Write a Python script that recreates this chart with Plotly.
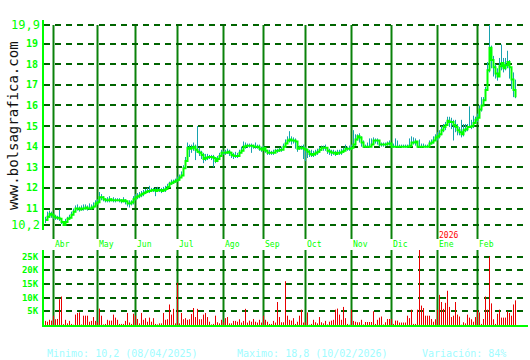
import plotly.graph_objects as go

# ---- data (trading-day index 0..235, late Mar 2025 .. Feb 2026) ----
close = [
    10.45, 10.6, 10.75, 10.7, 10.6, 10.55, 10.55, 10.5, 10.35, 10.2,
    10.35, 10.5, 10.55, 10.7, 10.85, 11.0, 11.0, 10.95, 11.0, 11.0,
    11.05, 11.0, 11.0, 11.05, 11.1, 11.25, 11.3, 11.55, 11.55, 11.45,
    11.4, 11.4, 11.45, 11.4, 11.4, 11.4, 11.4, 11.4, 11.35, 11.4,
    11.35, 11.25, 11.25, 11.3, 11.45, 11.55, 11.6, 11.65, 11.7, 11.75,
    11.8, 11.85, 11.85, 11.9, 11.9, 11.85, 11.9, 11.9, 11.85, 11.9,
    11.95, 12.05, 12.2, 12.25, 12.3, 12.35, 12.4, 12.5, 12.6, 12.95,
    13.3, 13.95, 13.9, 13.95, 14.0, 13.85, 13.75, 13.7, 13.6, 13.4,
    13.45, 13.5, 13.5, 13.5, 13.45, 13.3, 13.4, 13.55, 13.7, 13.7,
    13.7, 13.75, 13.7, 13.6, 13.55, 13.55, 13.55, 13.7, 13.8, 14.0,
    14.05, 14.05, 14.05, 14.05, 14.0, 14.0, 14.0, 13.9, 13.85, 13.95,
    13.8, 13.7, 13.7, 13.7, 13.7, 13.8, 13.8, 13.85, 13.85, 14.0,
    14.15, 14.3, 14.35, 14.3, 14.3, 14.25, 13.9, 13.95, 13.95, 13.9,
    13.85, 13.75, 13.65, 13.6, 13.65, 13.7, 13.75, 13.85, 13.95, 13.95,
    13.95, 13.8, 13.75, 13.7, 13.7, 13.65, 13.7, 13.7, 13.75, 13.8,
    13.9, 13.9, 13.9, 13.95, 14.1, 14.35, 14.5, 14.45, 14.2, 14.0,
    14.0, 14.0, 14.0, 14.1, 14.3, 14.3, 14.3, 14.1, 14.1, 14.1,
    14.1, 14.15, 14.15, 14.0, 14.0, 14.0, 14.0, 14.0, 14.0, 14.0,
    14.0, 14.0, 14.05, 14.2, 14.2, 14.25, 14.0, 14.0, 14.0, 14.0,
    14.0, 14.0, 14.15, 14.2, 14.3, 14.45, 14.5, 14.6, 14.8, 14.95,
    15.05, 15.25, 15.2, 15.2, 15.05, 14.95, 14.8, 14.7, 14.6, 14.8,
    14.85, 14.95, 14.95, 15.0, 15.15, 15.3, 15.4, 15.8, 16.0, 16.25,
    16.75, 17.7, 18.8, 18.2, 17.85, 17.55, 17.4, 17.9, 18.05, 17.8,
    17.95, 18.1, 17.85, 17.25, 16.75, 16.4,
]

high = [
    10.6, 10.85, 10.9, 10.85, 10.75, 10.7, 10.65, 10.95, 10.5, 10.4,
    10.5, 10.6, 10.7, 10.85, 11.0, 11.15, 11.2, 11.1, 11.15, 11.2,
    11.2, 11.15, 11.25, 11.2, 11.3, 11.4, 11.45, 11.8, 11.7, 11.6,
    11.5, 11.55, 11.6, 11.5, 11.55, 11.5, 11.5, 11.5, 11.45, 11.55,
    11.45, 11.35, 11.4, 11.4, 11.6, 11.7, 11.75, 11.8, 11.85, 11.9,
    11.95, 12.0, 12.1, 12.0, 12.0, 12.0, 12.05, 12.0, 12.0, 12.05,
    12.1, 12.2, 12.3, 12.4, 12.4, 12.45, 12.55, 12.65, 12.8, 13.1,
    13.5, 14.2, 14.1, 14.1, 14.2, 14.1, 15.0, 13.95, 13.8, 13.7,
    13.65, 13.65, 13.6, 13.6, 13.6, 13.5, 13.55, 13.7, 13.85, 13.8,
    13.85, 13.9, 13.85, 13.75, 13.7, 13.75, 13.7, 13.85, 14.0, 14.25,
    14.2, 14.15, 14.15, 14.15, 14.1, 14.2, 14.1, 14.1, 14.0, 14.05,
    13.95, 13.85, 13.85, 13.8, 13.85, 13.9, 13.9, 13.95, 14.0, 14.15,
    14.35, 14.5, 14.75, 14.5, 14.45, 14.4, 14.1, 14.05, 14.05, 14.1,
    14.0, 13.9, 13.85, 13.85, 13.8, 13.85, 13.9, 14.0, 14.05, 14.05,
    14.1, 13.95, 13.9, 13.85, 13.85, 13.8, 13.85, 13.85, 13.9, 13.95,
    14.1, 14.0, 14.05, 14.1, 14.8, 14.6, 14.6, 14.65, 14.5, 14.3,
    14.1, 14.2, 14.4, 14.4, 14.45, 14.4, 14.4, 14.3, 14.2, 14.2,
    14.2, 14.25, 14.3, 14.1, 14.15, 14.4, 14.3, 14.1, 14.1, 14.1,
    14.1, 14.1, 14.4, 14.5, 14.45, 14.4, 14.1, 14.35, 14.15, 14.15,
    14.1, 14.1, 14.3, 14.35, 14.5, 14.6, 14.7, 14.8, 15.0, 15.1,
    15.2, 15.45, 15.45, 15.4, 15.3, 15.3, 15.1, 14.95, 15.3, 15.1,
    15.1, 15.1, 15.95, 15.3, 15.5, 15.45, 15.6, 16.0, 16.4, 16.4,
    16.9, 18.1, 19.9, 18.9, 18.4, 18.0, 17.8, 18.3, 18.95, 18.3,
    18.3, 18.65, 18.2, 17.85, 17.6, 17.25,
]

low = [
    10.3, 10.4, 10.55, 10.55, 10.5, 10.45, 10.45, 10.4, 10.25, 10.2,
    10.25, 10.35, 10.45, 10.55, 10.7, 10.9, 10.9, 10.85, 10.9, 10.9,
    10.95, 10.9, 10.95, 10.95, 11.0, 11.1, 11.2, 11.3, 11.4, 11.35,
    11.3, 11.3, 11.3, 11.35, 11.3, 11.3, 11.35, 11.3, 11.25, 11.3,
    11.2, 11.1, 11.05, 11.15, 11.2, 11.4, 11.45, 11.5, 11.55, 11.6,
    11.7, 11.75, 11.75, 11.8, 11.8, 11.6, 11.8, 11.8, 11.75, 11.8,
    11.8, 11.95, 12.05, 12.15, 12.2, 12.25, 12.3, 12.35, 12.5, 12.6,
    13.0, 13.3, 13.5, 13.7, 13.8, 13.35, 13.7, 13.55, 13.4, 13.2,
    13.3, 13.35, 13.4, 13.35, 13.0, 13.2, 13.25, 13.4, 13.55, 13.6,
    13.6, 13.65, 13.55, 13.45, 13.4, 13.45, 13.45, 13.55, 13.7, 13.85,
    13.9, 13.95, 13.95, 13.7, 13.9, 13.9, 13.9, 13.8, 13.75, 13.85,
    13.7, 13.6, 13.6, 13.6, 13.6, 13.7, 13.7, 13.75, 13.75, 13.9,
    14.0, 14.15, 14.2, 14.1, 14.15, 13.9, 13.75, 13.85, 13.85, 13.4,
    13.3, 13.45, 13.5, 13.5, 13.5, 13.55, 13.6, 13.7, 13.8, 13.8,
    13.8, 13.65, 13.6, 13.55, 13.6, 13.55, 13.6, 13.6, 13.6, 13.7,
    13.8, 13.8, 13.8, 13.85, 13.95, 14.05, 14.3, 14.2, 14.0, 13.95,
    13.95, 13.95, 13.95, 14.0, 14.1, 14.15, 14.1, 14.0, 14.0, 14.0,
    14.0, 14.05, 14.05, 13.95, 13.95, 13.95, 13.95, 13.95, 13.95, 13.95,
    13.95, 13.95, 13.95, 14.0, 14.1, 14.05, 13.95, 13.95, 13.95, 13.95,
    13.95, 13.95, 14.0, 14.1, 14.15, 14.3, 14.3, 14.4, 14.55, 14.7,
    14.8, 15.0, 14.95, 14.85, 14.3, 14.7, 14.55, 14.55, 14.45, 14.5,
    14.7, 14.75, 14.95, 14.85, 14.9, 15.1, 15.2, 15.5, 15.7, 16.0,
    16.5, 16.8, 17.6, 17.8, 17.4, 17.3, 17.2, 17.45, 17.7, 17.6,
    17.7, 17.8, 17.3, 16.8, 16.4, 16.35,
]

volume_k = [
    1.5, 1.2, 1.9, 1.6, 3.4, 2.1, 2.2, 9.4, 10.4, 0.3,
    1.9, 0.6, 1.5, 0.4, 0.1, 3.8, 4.4, 4.6, 0.2, 3.4,
    3.4, 3.4, 1.2, 1.5, 2.9, 1.5, 1.0, 6.0, 3.4, 0.2,
    0.4, 1.9, 1.6, 1.6, 3.8, 2.7, 1.9, 0.4, 0.4, 0.4,
    1.5, 4.4, 0.9, 0.4, 4.1, 3.4, 2.2, 0.6, 4.4, 1.9,
    2.5, 1.2, 2.7, 1.2, 2.5, 0.4, 0.2, 0.6, 0.6, 4.4,
    1.9, 2.1, 7.5, 3.8, 5.9, 0.6, 15.4, 0.6, 4.4, 2.1,
    2.5, 1.9, 2.1, 4.0, 6.2, 2.9, 5.9, 2.1, 2.1, 3.8,
    4.4, 2.9, 1.2, 0.2, 0.4, 3.4, 1.0, 0.6, 1.9, 1.0,
    2.5, 2.9, 0.6, 0.6, 1.5, 1.5, 1.2, 2.1, 0.9, 1.5,
    5.9, 0.9, 1.6, 1.2, 2.2, 1.2, 0.9, 1.9, 0.9, 3.4,
    1.9, 1.2, 0.4, 0.4, 1.5, 0.9, 8.4, 2.9, 1.0, 1.0,
    16.0, 3.4, 1.9, 1.6, 2.5, 0.4, 1.2, 3.4, 5.6, 0.9,
    1.0, 4.6, 0.1, 0.4, 1.9, 1.0, 0.6, 2.9, 1.0, 0.6,
    1.5, 0.2, 1.2, 1.6, 1.9, 5.6, 6.0, 3.8, 1.9, 6.6,
    2.5, 0.4, 0.1, 5.6, 1.5, 1.2, 1.0, 1.0, 1.9, 0.2,
    1.1, 1.1, 1.1, 1.1, 5.0, 0.4, 1.9, 2.7, 3.1, 0.2,
    1.0, 2.2, 2.2, 2.2, 0.4, 1.6, 1.6, 0.9, 0.9, 0.9,
    0.9, 3.4, 2.5, 5.6, 0.4, 0.4, 5.6, 28.0, 7.1, 6.2,
    3.4, 3.4, 3.4, 2.2, 1.2, 2.1, 5.6, 11.0, 8.4, 5.9,
    8.1, 12.5, 6.6, 2.9, 3.4, 8.4, 3.8, 3.1, 0.1, 1.0,
    0.6, 3.8, 2.7, 2.1, 1.2, 2.9, 5.4, 4.6, 0.4, 2.2,
    10.4, 5.6, 25.0, 7.9, 2.1, 0.4, 4.1, 5.6, 2.7, 2.7,
    2.7, 5.0, 4.4, 3.4, 7.5, 9.0,
]

month_labels = ["Abr", "May", "Jun", "Jul", "Ago", "Sep", "Oct", "Nov", "Dic", "Ene", "Feb"]
month_start_idx = [4, 26, 45, 66, 89, 109, 130, 153, 173, 196, 216]

price_ticks = [11, 12, 13, 14, 15, 16, 17, 18, 19]
price_min_label = "10,2"
price_max_label = "19,9"
price_min_val = 10.2
price_max_val = 19.9
vol_ticks = [5000, 10000, 15000, 20000, 25000]
vol_tick_text = ["5K", "10K", "15K", "20K", "25K"]

footer = ["Minimo: 10,2 (08/04/2025)", "Maximo: 18,8 (10/02/2026)", "Variación: 84%"]

# ---- geometry helpers (pixel -> paper) ----
W, H = 530, 360
def py(p):
    return 1 - p / H
def px(p):
    return p / W

idx = list(range(len(close)))
volume = [v * 1000 for v in volume_k]

# high-low segments
seg_x, seg_y = [], []
for i, h, l in zip(idx, high, low):
    seg_x += [i, i, None]
    seg_y += [l, h, None]

# volume stems
vol_x, vol_y = [], []
for i, v in zip(idx, volume):
    vol_x += [i, i, None]
    vol_y += [0, v, None]

GRID = "#006400"
VLINE = "#0a820a"
BRIGHT = "#00ff00"
TEAL = "#17a2ae"
RED = "#e80000"
MONO = "DejaVu Sans Mono"

fig = go.Figure()
fig.add_trace(go.Scatter(x=seg_x, y=seg_y, mode="lines",
                         line=dict(color=TEAL, width=1),
                         xaxis="x", yaxis="y", hoverinfo="skip"))
fig.add_trace(go.Scatter(x=idx, y=close, mode="lines",
                         line=dict(color=BRIGHT, width=2, shape="hv"),
                         xaxis="x", yaxis="y"))
fig.add_trace(go.Scatter(x=vol_x, y=vol_y, mode="lines",
                         line=dict(color=RED, width=1),
                         xaxis="x2", yaxis="y2", hoverinfo="skip"))

# 2 px per trading day, bar centres on pixel centres
xr = [-0.75, 241.25]
shapes = []
for m in month_start_idx:
    shapes.append(dict(type="line", xref="x", yref="paper", x0=m, x1=m,
                       y0=py(239), y1=py(25), line=dict(color=VLINE, width=2), layer="below"))
    shapes.append(dict(type="line", xref="x", yref="paper", x0=m, x1=m,
                       y0=py(325), y1=py(250), line=dict(color=VLINE, width=2), layer="below"))

annotations = []
for lab, m in zip(month_labels, month_start_idx):
    annotations.append(dict(x=m, y=py(244), xref="x", yref="paper", text=lab, showarrow=False,
                            xanchor="left", yanchor="middle", xshift=-1,
                            font=dict(family=MONO, size=8, color=BRIGHT)))
annotations.append(dict(x=month_start_idx[9], y=py(235), xref="x", yref="paper", text="2026",
                        showarrow=False, xanchor="left", yanchor="middle", xshift=-1,
                        font=dict(family=MONO, size=8, color="#ff0000")))
annotations.append(dict(x=px(42), y=price_max_val, xref="paper", yref="y", text=price_max_label,
                        showarrow=False, xanchor="right", yanchor="middle",
                        font=dict(family=MONO, size=12, color=BRIGHT)))
annotations.append(dict(x=px(42), y=price_min_val, xref="paper", yref="y", text=price_min_label,
                        showarrow=False, xanchor="right", yanchor="middle",
                        font=dict(family=MONO, size=12, color=BRIGHT)))
annotations.append(dict(x=px(13), y=py(126), xref="paper", yref="paper", text="www.bolsagrafica.com",
                        showarrow=False, textangle=-90, xanchor="center", yanchor="middle",
                        font=dict(family=MONO, size=14, color="#111111")))
for t, x0 in zip(footer, [45, 235, 420]):
    annotations.append(dict(x=px(x0), y=py(353), xref="paper", yref="paper", text=t,
                            showarrow=False, xanchor="left", yanchor="middle",
                            font=dict(family=MONO, size=10, color="#9ffcff")))

fig.update_layout(
    width=W, height=H, margin=dict(l=0, r=0, t=0, b=0),
    paper_bgcolor="white", plot_bgcolor="white", showlegend=False,
    xaxis=dict(domain=[px(44), px(528)], range=xr, showticklabels=False, showgrid=False,
               zeroline=False, showline=False, anchor="y", fixedrange=True),
    yaxis=dict(domain=[py(230), py(20)], range=[9.96, 20.14],
               tickvals=[price_min_val] + price_ticks + [price_max_val],
               ticktext=[""] + [str(v) for v in price_ticks] + [""],
               tickfont=dict(family=MONO, size=10, color=BRIGHT, weight="bold"),
               showgrid=True, gridcolor=GRID, gridwidth=2, griddash="6px,5px",
               zeroline=False, showline=True, linecolor=BRIGHT, linewidth=2,
               ticks="", ticklabelstandoff=2, anchor="x"),
    xaxis2=dict(domain=[px(44), px(528)], range=xr, showticklabels=False, showgrid=False,
                zeroline=False, showline=True, linecolor=BRIGHT, linewidth=2, anchor="y2",
                matches="x"),
    yaxis2=dict(domain=[py(325), py(250)], range=[0, 27400],
                tickvals=vol_ticks, ticktext=vol_tick_text,
                tickfont=dict(family=MONO, size=9, color=BRIGHT, weight="bold"),
                showgrid=True, gridcolor=GRID, gridwidth=2, griddash="6px,5px",
                zeroline=False, showline=True, linecolor=BRIGHT, linewidth=2,
                ticks="", ticklabelstandoff=2, anchor="x2"),
    shapes=shapes, annotations=annotations,
)

fig.write_html("out.html")
